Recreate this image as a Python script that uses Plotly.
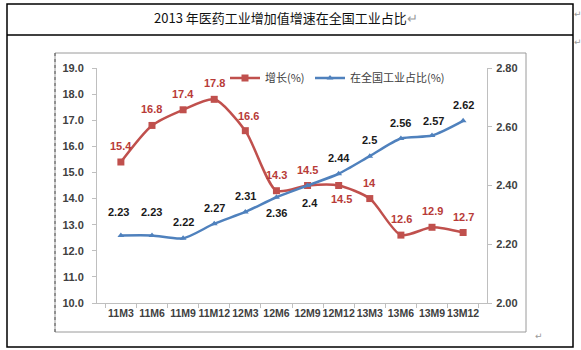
import plotly.graph_objects as go

categories = ["11M3", "11M6", "11M9", "11M12", "12M3", "12M6",
              "12M9", "12M12", "13M3", "13M6", "13M9", "13M12"]
growth = [15.4, 16.8, 17.4, 17.8, 16.6, 14.3, 14.5, 14.5, 14, 12.6, 12.9, 12.7]
share = [2.23, 2.23, 2.22, 2.27, 2.31, 2.36, 2.4, 2.44, 2.5, 2.56, 2.57, 2.62]
growth_name = "增长(%)"
share_name = "在全国工业占比(%)"
title_text = "2013 年医药工业增加值增速在全国工业占比"
left_ticks = [10.0, 11.0, 12.0, 13.0, 14.0, 15.0, 16.0, 17.0, 18.0, 19.0]
right_ticks = [2.00, 2.20, 2.40, 2.60, 2.80]

# label offsets (style only): (dx, dy) in px, dy negative = above
growth_label_off = [(0, -16), (0, -16), (0, -16), (0, -16), (3, -15), (0, -16),
                    (0, -16), (3, 13), (0, -16), (1, -16), (0, -16), (0, -16)]
share_label_off = [(-2, -23), (0, -23), (0, -16), (0, -16), (0, -16), (0, 16),
                   (2, 17), (0, -16), (0, -16), (0, -16), (1, -15), (0, -16)]

W, H = 581, 350
L, R, T, B = 97, 487, 68, 303
PW, PH = R - L, B - T


def px(x):
    return (x - L) / PW


def py(y):
    return (B - y) / PH


RED = "#C0504D"
BLUE = "#4F81BD"
FONT = "Liberation Sans"

fig = go.Figure()
fig.add_trace(go.Scatter(
    x=categories, y=growth, name=growth_name, mode="lines+markers",
    line=dict(color=RED, width=2.5, shape="spline", smoothing=0.7),
    marker=dict(symbol="square", size=7, color=RED),
    legendwidth=40, yaxis="y"))
fig.add_trace(go.Scatter(
    x=categories, y=share, name=share_name, mode="lines+markers",
    line=dict(color=BLUE, width=2.5, shape="spline", smoothing=0.7),
    marker=dict(symbol="triangle-up", size=6, color=BLUE),
    legendwidth=100, yaxis="y2"))

annotations = []
for c, v, (dx, dy) in zip(categories, growth, growth_label_off):
    annotations.append(dict(x=c, y=v, xref="x", yref="y", text=f"<b>{v:g}</b>",
                            showarrow=False, xshift=dx, yshift=-dy,
                            font=dict(family=FONT, size=11, color="#B83B38")))
for c, v, (dx, dy) in zip(categories, share, share_label_off):
    annotations.append(dict(x=c, y=v, xref="x", yref="y2", text=f"<b>{v:g}</b>",
                            showarrow=False, xshift=dx, yshift=-dy,
                            font=dict(family=FONT, size=11, color="#1A1A1A")))

# title and paragraph marks
annotations.append(dict(xref="paper", yref="paper", x=px(286), y=py(18),
                        text=title_text + "<span style='color:#999999'>↵</span>",
                        showarrow=False, xanchor="center", yanchor="middle",
                        font=dict(family="Noto Sans CJK SC", size=13, color="#111111")))
for (mx, my) in [(578, 14), (578, 42), (539, 336)]:
    annotations.append(dict(xref="paper", yref="paper", x=px(mx), y=py(my), text="↵",
                            showarrow=False, xanchor="center", yanchor="middle",
                            font=dict(family="DejaVu Sans", size=9, color="#999999")))

shapes = [
    # table outer border
    dict(type="rect", xref="paper", yref="paper", x0=px(7), x1=px(573), y0=py(4), y1=py(347),
         line=dict(color="#000000", width=1.5), layer="below"),
    # title row separator
    dict(type="line", xref="paper", yref="paper", x0=px(7), x1=px(573), y0=py(35), y1=py(35),
         line=dict(color="#000000", width=1.5)),
    # chart picture frame
    dict(type="rect", xref="paper", yref="paper", x0=px(55), x1=px(526), y0=py(53), y1=py(332),
         line=dict(color="#9A9A9A", width=1), layer="below"),
    dict(type="line", xref="paper", yref="paper", x0=px(55), x1=px(55), y0=py(53), y1=py(332),
         line=dict(color="#555555", width=1, dash="dot")),
]

axis_font = dict(family=FONT, size=11, color="#404040", weight="bold")
fig.update_layout(
    width=W, height=H, autosize=False,
    margin=dict(l=L, r=W - R, t=T, b=H - B),
    paper_bgcolor="white", plot_bgcolor="white",
    showlegend=True,
    legend=dict(orientation="h", x=px(225), y=py(78), xanchor="left", yanchor="middle",
                font=dict(family="Noto Sans CJK SC", size=11, color="#404040"),
                bgcolor="rgba(0,0,0,0)", itemwidth=30, tracegroupgap=0),
    xaxis=dict(type="category", showgrid=False, showline=True, linecolor="#BFBFBF",
               linewidth=1, ticks="outside", tickson="boundaries", ticklen=4,
               tickcolor="#BFBFBF", tickangle=0,
               tickfont=dict(family=FONT, size=10.5, color="#404040", weight="bold"),
               zeroline=False),
    yaxis=dict(range=[10, 19], tickvals=left_ticks, tickformat=".1f", showgrid=False,
               showline=True, linecolor="#BFBFBF", linewidth=1, ticks="outside",
               ticklen=4, tickcolor="#BFBFBF", tickfont=axis_font,
               zeroline=False, ticklabelstandoff=6),
    yaxis2=dict(range=[2.0, 2.8], tickvals=right_ticks, tickformat=".2f", overlaying="y",
                side="right", showgrid=False, showline=True, linecolor="#BFBFBF",
                linewidth=1, ticks="outside", ticklen=4, tickcolor="#BFBFBF",
                tickfont=axis_font, zeroline=False, ticklabelstandoff=2),
    annotations=annotations,
    shapes=shapes,
)

fig.write_html("out.html")
